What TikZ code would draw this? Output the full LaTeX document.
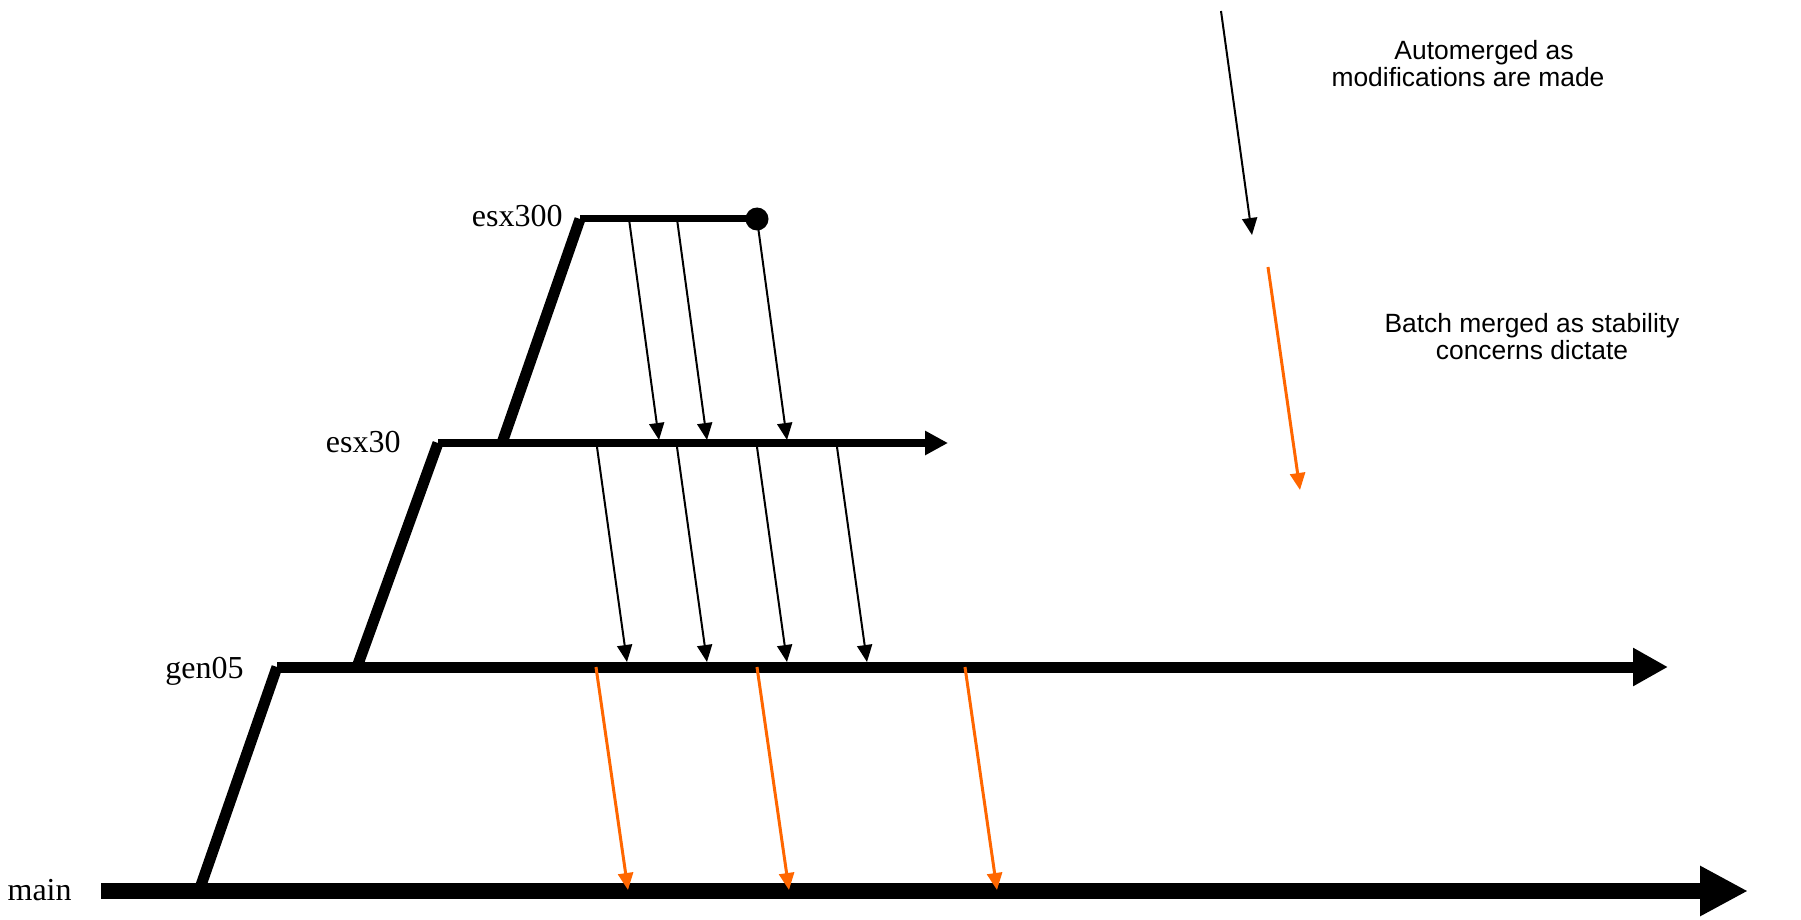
\documentclass[tikz,border=0pt]{standalone}
\usepackage{fontspec}
\setmainfont{Liberation Serif}
\newfontfamily\notefont{Liberation Sans}
\usetikzlibrary{arrows.meta}
\definecolor{batchorange}{HTML}{FF6600}
\begin{document}
\begin{tikzpicture}[x=0.5pt,y=-0.5pt,
        lblsty/.style={inner sep=0pt,anchor=base east,font=\fontsize{16}{19}\selectfont},
        notesty/.style={inner sep=0pt,align=center,anchor=base,font=\notefont\fontsize{13.2}{13.5}\selectfont},
        slsty/.style={line width=5.5pt},
        mgsty/.style={line width=1pt,-{Triangle[length=8.5pt,width=7.5pt]}},
        btsty/.style={line width=1.5pt,draw=batchorange,-{Triangle[length=8.5pt,width=7.5pt]}},
    ]
    \useasboundingbox (0,0) rectangle (1801,920);
    \coordinate (m0) at (101,891);
    \coordinate (m1) at (1748,891);
    \coordinate (g0) at (277,667);
    \coordinate (g1) at (1668,667);
    \coordinate (e0) at (438,443);
    \coordinate (e1) at (948,443);
    \coordinate (s0) at (580,219);
    \node (dot) at (757,219) [circle,fill,inner sep=0pt,minimum size=11.5pt] {};
    \coordinate (gf) at (199,891);
    \coordinate (ef) at (357,667);
    \coordinate (sf) at (502,443);
    \draw[line width=8pt,-{Triangle[length=24pt,width=23.5pt]}] (m0) -- (m1);
    \draw[line width=5.5pt,-{Triangle[length=17.5pt,width=18pt]}] (g0) -- (g1);
    \draw[line width=4pt,-{Triangle[length=11.5pt,width=11.5pt]}] (e0) -- (e1);
    \draw[line width=3.5pt] (s0) -- (dot.center);
    \draw[slsty] (gf) -- (g0);
    \draw[slsty] (ef) -- (e0);
    \draw[slsty] (sf) -- (s0);
    \foreach \i/\x in {1/629,2/677,3/757}{
        \coordinate (a\i) at (\x,219);
        \coordinate (b\i) at (\x+30,440);
        \draw[mgsty] (a\i) -- (b\i);
    }
    \foreach \i/\x in {1/597,2/677,3/757,4/837}{
        \coordinate (c\i) at (\x,447);
        \coordinate (d\i) at (\x+30,662);
        \draw[mgsty] (c\i) -- (d\i);
    }
    \foreach \i/\x in {1/596,2/757,3/965}{
        \coordinate (p\i) at (\x,667);
        \coordinate (q\i) at (\x+32,890);
        \draw[btsty] (p\i) -- (q\i);
    }
    \node (lmain) at (72,900) [lblsty] {main};
    \node (lgen) at (244,678) [lblsty] {gen05};
    \node (lesx30) at (401,452) [lblsty] {esx30};
    \node (lesx300) at (563,227) [lblsty] {esx300};
    \coordinate (k0) at (1221,11);
    \coordinate (k1) at (1252,235);
    \draw[mgsty] (k0) -- (k1);
    \coordinate (o0) at (1268,267);
    \coordinate (o1) at (1300,490);
    \draw[btsty] (o0) -- (o1);
    \node (auto) at (1468,87) [notesty] {\hspace*{16pt}Automerged as\\modifications are made};
    \node (batch) at (1532,359) [notesty] {Batch merged as stability\\concerns dictate};
\end{tikzpicture}
\end{document}
